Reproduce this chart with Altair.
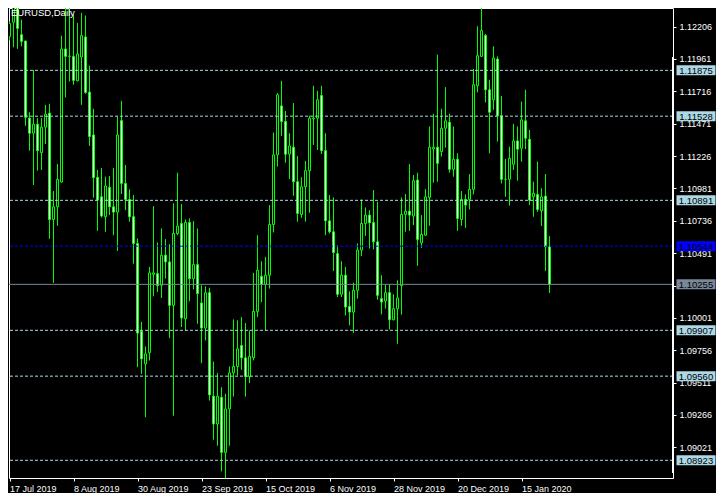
import altair as alt
import pandas as pd

title_text = "EURUSD,Daily"

date_labels = ["17 Jul 2019", "8 Aug 2019", "30 Aug 2019", "23 Sep 2019", "15 Oct 2019",
               "6 Nov 2019", "28 Nov 2019", "20 Dec 2019", "15 Jan 2020"]
date_positions = [0, 16, 32, 48, 64, 80, 96, 112, 128]

opens = [1.12130, 1.12239, 1.12400, 1.12145, 1.12097, 1.11513, 1.11399, 1.11467, 1.11252, 1.11445,
         1.11551, 1.10746, 1.10842, 1.11030, 1.12037, 1.11981, 1.11981, 1.11796, 1.11976, 1.12128,
         1.11710, 1.11386, 1.11065, 1.10918, 1.10767, 1.10989, 1.10842, 1.10802, 1.11495, 1.11019,
         1.10898, 1.10767, 1.10564, 1.09899, 1.09653, 1.09737, 1.10331, 1.10336, 1.10248, 1.10476,
         1.10425, 1.10096, 1.10640, 1.10716, 1.09995, 1.10723, 1.10298, 1.10405, 1.10114, 1.09924,
         1.10192, 1.09408, 1.09198, 1.09400, 1.08983, 1.09312, 1.09585, 1.09633, 1.09792, 1.09699,
         1.09557, 1.09699, 1.10050, 1.10316, 1.10255, 1.10324, 1.10708, 1.11235, 1.11606, 1.11488,
         1.11240, 1.11293, 1.11032, 1.10784, 1.10994, 1.11116, 1.11508, 1.11513, 1.11685, 1.11267,
         1.10736, 1.10653, 1.10488, 1.10180, 1.10324, 1.10088, 1.10045, 1.10210, 1.10514, 1.10716,
         1.10779, 1.10723, 1.10577, 1.10147, 1.10129, 1.10192, 1.09987, 1.10071, 1.10245, 1.10784,
         1.10809, 1.10772, 1.11045, 1.10569, 1.10627, 1.10913, 1.11280, 1.11293, 1.11260, 1.11437,
         1.11482, 1.11126, 1.11202, 1.10746, 1.10898, 1.10898, 1.10974, 1.11758, 1.11981, 1.12138,
         1.11728, 1.11652, 1.11961, 1.11531, 1.11050, 1.11050, 1.11164, 1.11341, 1.11285, 1.11493,
         1.11353, 1.10918, 1.10936, 1.10812, 1.10923, 1.10539]

highs = [1.12247, 1.12420, 1.12420, 1.12259, 1.12100, 1.11558, 1.11877, 1.11513, 1.11513, 1.11614,
         1.11622, 1.10961, 1.11166, 1.12138, 1.12391, 1.12391, 1.12297, 1.12234, 1.12310, 1.12290,
         1.11910, 1.11584, 1.11121, 1.11136, 1.11070, 1.11075, 1.11136, 1.11525, 1.11644, 1.11159,
         1.10974, 1.10931, 1.10602, 1.09970, 1.09785, 1.10387, 1.10847, 1.10572, 1.10678, 1.10597,
         1.10559, 1.10868, 1.11100, 1.10863, 1.10746, 1.10754, 1.10734, 1.10678, 1.10248, 1.10240,
         1.10230, 1.09671, 1.09585, 1.09476, 1.09426, 1.09633, 1.09990, 1.09982, 1.10008, 1.09962,
         1.09906, 1.10342, 1.10627, 1.10430, 1.10463, 1.10855, 1.11404, 1.11703, 1.11796, 1.11568,
         1.11399, 1.11627, 1.11227, 1.11065, 1.11189, 1.11531, 1.11758, 1.11720, 1.11758, 1.11399,
         1.10931, 1.10913, 1.10551, 1.10430, 1.10387, 1.10202, 1.10268, 1.10564, 1.10898, 1.10837,
         1.10817, 1.10969, 1.10880, 1.10324, 1.10253, 1.10253, 1.10180, 1.10286, 1.10913, 1.10939,
         1.11166, 1.11083, 1.11100, 1.10779, 1.10977, 1.11450, 1.11546, 1.11994, 1.11584, 1.11748,
         1.11546, 1.11450, 1.11247, 1.10961, 1.10936, 1.11090, 1.11885, 1.12209, 1.12391, 1.12150,
         1.11804, 1.12057, 1.11981, 1.11682, 1.11204, 1.11298, 1.11470, 1.11450, 1.11639, 1.11728,
         1.11424, 1.11032, 1.11184, 1.10982, 1.11090, 1.10620]

lows = [1.12102, 1.12049, 1.12037, 1.12057, 1.11455, 1.11267, 1.11007, 1.11116, 1.11121, 1.11318,
        1.10600, 1.10266, 1.10698, 1.11025, 1.11670, 1.11791, 1.11766, 1.11791, 1.11614, 1.11698,
        1.11303, 1.10911, 1.10660, 1.10761, 1.10653, 1.10779, 1.10627, 1.10508, 1.10939, 1.10817,
        1.10729, 1.10412, 1.09628, 1.09577, 1.09249, 1.09679, 1.10164, 1.10197, 1.10152, 1.10298,
        1.09848, 1.09261, 1.10627, 1.09932, 1.09906, 1.10126, 1.10217, 1.09957, 1.09658, 1.09830,
        1.09375, 1.09079, 1.09033, 1.08839, 1.08788, 1.09033, 1.09405, 1.09565, 1.09608, 1.09405,
        1.09507, 1.09679, 1.10008, 1.10121, 1.09906, 1.10223, 1.10648, 1.11146, 1.11379, 1.11176,
        1.11052, 1.10926, 1.10729, 1.10759, 1.10729, 1.10797, 1.11310, 1.11272, 1.11242, 1.10627,
        1.10640, 1.10357, 1.10159, 1.10159, 1.10020, 1.09944, 1.09886, 1.10147, 1.10468, 1.10622,
        1.10526, 1.10519, 1.10139, 1.10028, 1.10071, 1.09914, 1.09982, 1.09805, 1.10025, 1.10653,
        1.10660, 1.10703, 1.10395, 1.10531, 1.10622, 1.10698, 1.11025, 1.11032, 1.11222, 1.11290,
        1.11100, 1.11070, 1.10660, 1.10698, 1.10683, 1.10822, 1.10936, 1.11708, 1.11976, 1.11632,
        1.11247, 1.11576, 1.11336, 1.11019, 1.10918, 1.10850, 1.11121, 1.11040, 1.11184, 1.11278,
        1.10855, 1.10767, 1.10804, 1.10696, 1.10357, 1.10190]

closes = [1.12230, 1.12400, 1.12193, 1.12095, 1.11520, 1.11399, 1.11467, 1.11267, 1.11445, 1.11543,
          1.10746, 1.10842, 1.11050, 1.12037, 1.11981, 1.11983, 1.11799, 1.11999, 1.12138, 1.11708,
          1.11374, 1.11063, 1.10893, 1.10772, 1.11000, 1.10842, 1.10802, 1.11386, 1.11019, 1.10898,
          1.10767, 1.10564, 1.09886, 1.09691, 1.09729, 1.10342, 1.10342, 1.10245, 1.10476, 1.10425,
          1.10096, 1.10640, 1.10696, 1.10000, 1.10723, 1.10298, 1.10405, 1.10185, 1.09924, 1.10192,
          1.09418, 1.09198, 1.09408, 1.08983, 1.09312, 1.09585, 1.09633, 1.09767, 1.09699, 1.09557,
          1.09709, 1.10050, 1.10362, 1.10255, 1.10324, 1.10708, 1.11235, 1.11690, 1.11488, 1.11240,
          1.11303, 1.11032, 1.10792, 1.10994, 1.11116, 1.11513, 1.11513, 1.11652, 1.11267, 1.10736,
          1.10653, 1.10496, 1.10180, 1.10324, 1.10083, 1.10045, 1.10210, 1.10514, 1.10716, 1.10779,
          1.10721, 1.10577, 1.10172, 1.10121, 1.10192, 1.09987, 1.10071, 1.10152, 1.10784, 1.10809,
          1.10779, 1.11040, 1.10595, 1.10632, 1.10918, 1.11293, 1.11293, 1.11171, 1.11437, 1.11493,
          1.11126, 1.11202, 1.10754, 1.10898, 1.10855, 1.10974, 1.11766, 1.11986, 1.12176, 1.11728,
          1.11558, 1.11968, 1.11531, 1.11050, 1.11050, 1.11209, 1.11341, 1.11278, 1.11500, 1.11361,
          1.10893, 1.10944, 1.10822, 1.10918, 1.10539, 1.10255]

price_ticks = [1.12206, 1.11961, 1.11716, 1.11471, 1.11226, 1.10981, 1.10736, 1.10491,
               1.10246, 1.10001, 1.09756, 1.09511, 1.09266, 1.09021]
level_prices = [1.11875, 1.11528, 1.10891, 1.09907, 1.09560, 1.08923]
bid_prices = [1.10544]
last_prices = [1.10255]

y_domain = [1.08789, 1.12347]
x_domain = [-0.125, 165.875]

GREEN = "#00ff00"
LIGHTBLUE = "#add8e6"
BLUE = "#0000ff"
GRAY = "#778899"
FONT = "Liberation Sans"

candles = pd.DataFrame({
    "i": list(range(len(opens))),
    "open": opens, "high": highs, "low": lows, "close": closes,
})
candles["dir"] = ["up" if c >= o else "down" for o, c in zip(opens, closes)]

levels = pd.DataFrame({"price": level_prices})
bids = pd.DataFrame({"price": bid_prices})
lasts = pd.DataFrame({"price": last_prices})
title_df = pd.DataFrame({"t": [title_text]})

xscale = alt.Scale(domain=x_domain, nice=False, zero=False, padding=0)
yscale = alt.Scale(domain=y_domain, nice=False, zero=False, padding=0)

label_expr = "[" + ",".join("'%s'" % s for s in date_labels) + "][indexof([" + \
    ",".join(str(v) for v in date_positions) + "], datum.value)]"

x_axis = alt.Axis(values=date_positions, labelExpr=label_expr, orient="bottom", grid=False,
                  domain=False, tickColor="white", tickSize=3, labelColor="white",
                  labelFont=FONT, labelFontSize=9, labelAlign="left", labelBaseline="top",
                  labelPadding=3, labelFlush=False, labelOverlap=False, title=None)
y_axis = alt.Axis(values=price_ticks, format=".5f", orient="right", grid=False, domain=False,
                  tickColor="white", tickSize=3, labelColor="white", labelFont=FONT,
                  labelFontSize=9, labelPadding=3, labelBaseline="middle", labelFlush=False,
                  labelOverlap=False, labelSeparation=0, title=None)

wicks = alt.Chart(candles).mark_rule(color=GREEN, strokeWidth=1, clip=True).encode(
    x=alt.X("i:Q", scale=xscale, axis=x_axis),
    y=alt.Y("low:Q", scale=yscale, axis=y_axis),
    y2="high:Q",
)

bodies = alt.Chart(candles).mark_bar(size=2, stroke=GREEN, strokeWidth=1, clip=True).encode(
    x=alt.X("i:Q", scale=xscale, axis=x_axis),
    y=alt.Y("open:Q", scale=yscale, axis=y_axis),
    y2="close:Q",
    fill=alt.Fill("dir:N", scale=alt.Scale(domain=["up", "down"], range=["#000000", "#ffffff"]),
                  legend=None),
)

level_lines = alt.Chart(levels).mark_rule(color=LIGHTBLUE, strokeWidth=1, strokeDash=[3, 2]).encode(
    y=alt.Y("price:Q", scale=yscale, axis=y_axis))
bid_lines = alt.Chart(bids).mark_rule(color=BLUE, strokeWidth=1, strokeDash=[3, 2]).encode(
    y=alt.Y("price:Q", scale=yscale, axis=y_axis))
last_lines = alt.Chart(lasts).mark_rule(color=GRAY, strokeWidth=1).encode(
    y=alt.Y("price:Q", scale=yscale, axis=y_axis))


def price_box(df, color):
    box = alt.Chart(df).mark_tick(orient="horizontal", size=39, thickness=10, color=color,
                                  opacity=1).encode(
        x=alt.value(687), y=alt.Y("price:Q", scale=yscale, axis=y_axis))
    txt = alt.Chart(df).mark_text(align="center", baseline="middle", color="black",
                                  font=FONT, fontSize=9.5, dy=0.5).encode(
        x=alt.value(687), y=alt.Y("price:Q", scale=yscale, axis=y_axis),
        text=alt.Text("price:Q", format=".5f"))
    return box + txt


title_mark = alt.Chart(title_df).mark_text(align="left", baseline="alphabetic", color="white",
                                           font=FONT, fontSize=9.5).encode(
    x=alt.value(2), y=alt.value(8), text="t:N")

edge = alt.Chart(title_df).mark_rule(color="white", strokeWidth=2).encode(
    x=alt.value(664), y=alt.value(49), y2=alt.value(465))

chart = alt.layer(
    wicks, bodies, level_lines, bid_lines, last_lines,
    price_box(levels, LIGHTBLUE), price_box(bids, BLUE), price_box(lasts, GRAY),
    title_mark, edge,
).properties(
    width=664, height=470,
    padding={"left": 0, "top": 0, "right": 0, "bottom": 0},
    background="black",
).configure_view(
    stroke="white", strokeWidth=1,
).configure_axis(
    labelOverlap=False,
).configure_scale(
    continuousPadding=0,
)

chart.save("out.html", embed_options={"renderer": "svg", "actions": False})
